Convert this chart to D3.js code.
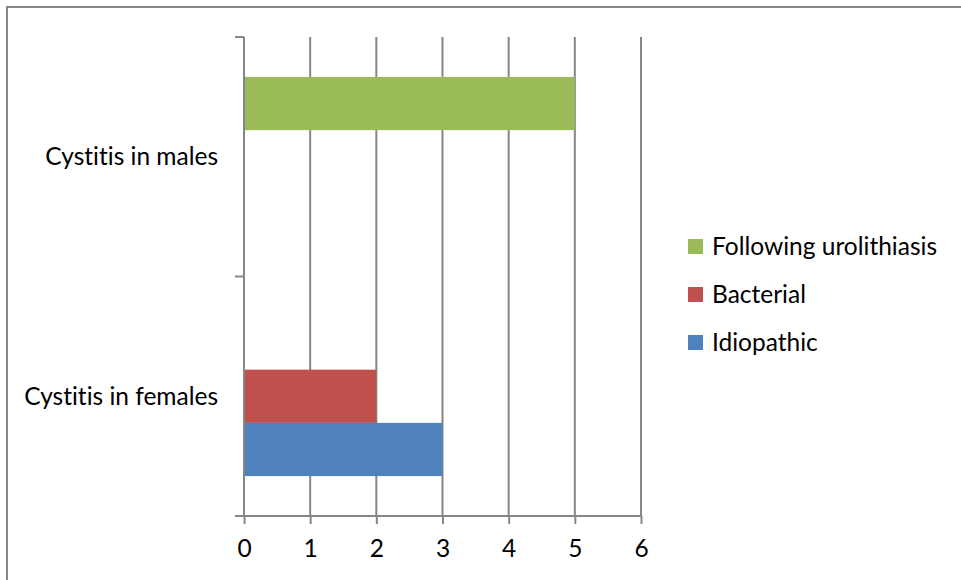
<!DOCTYPE html>
<html>
<head>
<meta charset="utf-8">
<script src="https://cdn.jsdelivr.net/npm/d3@7"></script>
<style>
  html, body { margin: 0; padding: 0; background: #fff; }
  svg { display: block; }
  text { font-family: Lato, "Open Sans", sans-serif; fill: #000; font-variant-ligatures: none; }
</style>
</head>
<body>
<svg id="chart" width="961" height="580"></svg>
<script>
const categories = ["Cystitis in males", "Cystitis in females"];
const seriesNames = ["Following urolithiasis", "Bacterial", "Idiopathic"];
const seriesColors = ["#9BBB59", "#C0504D", "#4F81BD"];
// values[series][category]
const followingUrolithiasis = [5, 0];
const bacterial = [0, 2];
const idiopathic = [0, 3];
const seriesValues = [followingUrolithiasis, bacterial, idiopathic];
const xTicks = [0, 1, 2, 3, 4, 5, 6];

(function () {
const svg = d3.select("#chart");
const gridColor = "#868686";
const fs = 24.5;

// outer border
svg.append("rect")
  .attr("x", 7).attr("y", 7).attr("width", 960).attr("height", 580)
  .attr("fill", "none").attr("stroke", gridColor).attr("stroke-width", 2);

const pLeft = 244, pRight = 641, pTop = 37, pBottom = 516;

const x = d3.scaleLinear().domain([0, 6]).range([pLeft, pRight]);
const y = d3.scaleBand().domain(categories).range([pTop, pBottom]).paddingInner(0).paddingOuter(0);
const yInner = d3.scaleBand().domain(seriesNames).range([0, y.bandwidth()]).paddingInner(0).paddingOuter(0.75);

// gridlines
svg.append("g").selectAll("line").data(xTicks.slice(1)).join("line")
  .attr("x1", d => x(d)).attr("x2", d => x(d))
  .attr("y1", pTop).attr("y2", pBottom)
  .attr("stroke", gridColor).attr("stroke-width", 2);

// bars
const bars = [];
seriesNames.forEach((s, si) => {
  categories.forEach((c, ci) => {
    bars.push({ series: s, cat: c, value: seriesValues[si][ci], color: seriesColors[si] });
  });
});
svg.append("g").selectAll("rect").data(bars.filter(d => d.value > 0)).join("rect")
  .attr("x", x(0) + 1)
  .attr("y", d => y(d.cat) + yInner(d.series))
  .attr("width", d => x(d.value) - x(0) - 1)
  .attr("height", yInner.bandwidth())
  .attr("fill", d => d.color);

// x axis
const xAxis = svg.append("g").attr("transform", `translate(0,${pBottom})`)
  .call(d3.axisBottom(x).tickValues(xTicks).tickSize(8).tickPadding(16).tickFormat(d3.format("d")));
xAxis.select(".domain").attr("stroke", gridColor).attr("stroke-width", 2)
  .attr("d", `M${pLeft - 9},0H${pRight}`);
xAxis.selectAll(".tick line").attr("stroke", gridColor).attr("stroke-width", 2);
xAxis.selectAll(".tick text").attr("font-size", fs).attr("font-family", "Lato, sans-serif").attr("fill", "#000");

// y axis
const yAxisG = svg.append("g").attr("transform", `translate(${pLeft},0)`);
yAxisG.append("line").attr("x1", 0).attr("x2", 0).attr("y1", pTop).attr("y2", pBottom)
  .attr("stroke", gridColor).attr("stroke-width", 2);
const yTickPos = [pTop, y(categories[1]), pBottom];
yAxisG.selectAll("line.tk").data(yTickPos).join("line").attr("class", "tk")
  .attr("x1", -9).attr("x2", 0).attr("y1", d => d).attr("y2", d => d)
  .attr("stroke", gridColor).attr("stroke-width", 2);
yAxisG.selectAll("text").data(categories).join("text")
  .attr("x", -26)
  .attr("y", d => y(d) + y.bandwidth() / 2)
  .attr("dy", "0.35em")
  .attr("text-anchor", "end")
  .attr("font-size", fs)
  .text(d => d);

// legend
const legend = svg.append("g");
const lg = legend.selectAll("g").data(seriesNames).join("g")
  .attr("transform", (d, i) => `translate(688,${246 + i * 48})`);
lg.append("rect").attr("x", 0).attr("y", -7).attr("width", 15).attr("height", 15)
  .attr("fill", (d, i) => seriesColors[i]);
lg.append("text").attr("x", 24).attr("y", 0).attr("dy", "0.35em")
  .attr("font-size", fs).text(d => d);
})();
</script>
</body>
</html>
